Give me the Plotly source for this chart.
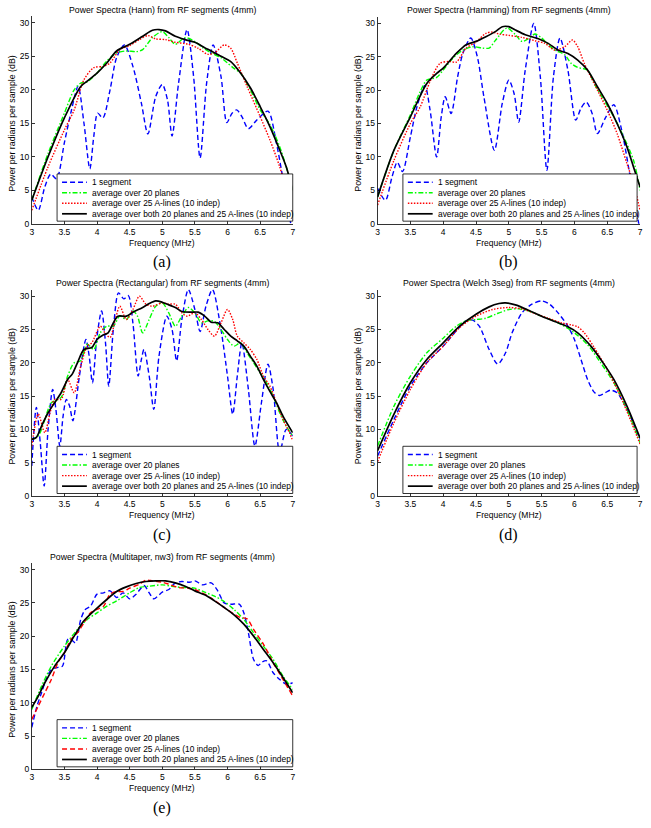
import plotly.graph_objects as go

W, H = 651, 828

# ---------------- data (frequency MHz, power dB) ----------------
titles = [
    "Power Spectra (Hann) from RF segments (4mm)",
    "Power Spectra (Hamming) from RF segments (4mm)",
    "Power Spectra (Rectangular) from RF segments (4mm)",
    "Power Spectra (Welch 3seg) from RF segments (4mm)",
    "Power Spectra (Multitaper, nw3) from RF segments (4mm)",
]
panel_labels = ["(a)", "(b)", "(c)", "(d)", "(e)"]
legend_names = [
    "1 segment",
    "average over 20 planes",
    "average over 25 A-lines (10 indep)",
    "average over both 20 planes and 25 A-lines (10 indep)",
]
x_ticks = [3, 3.5, 4, 4.5, 5, 5.5, 6, 6.5, 7]
y_ticks = [0, 5, 10, 15, 20, 25, 30]

# (a) Hann
hann_blue_x = [3.0, 3.1, 3.2, 3.29, 3.38, 3.5, 3.6, 3.71, 3.8, 3.89, 3.95, 4.01, 4.09, 4.2, 4.3, 4.42, 4.55, 4.68, 4.78, 4.9, 5.0, 5.08, 5.15, 5.25, 5.38, 5.48, 5.58, 5.68, 5.78, 5.9, 5.99, 6.07, 6.14, 6.22, 6.32, 6.45, 6.62, 6.75, 6.88, 6.97, 7.0]
hann_blue_y = [4.0, 2.0, 5.5, 7.4, 6.7, 12.1, 16.6, 20.5, 15.0, 8.2, 13.0, 16.5, 15.8, 20.0, 24.8, 26.7, 23.5, 18.0, 13.4, 19.0, 20.8, 18.5, 13.1, 21.0, 29.0, 22.0, 9.8, 21.0, 26.7, 22.0, 15.1, 16.5, 17.0, 16.0, 14.2, 15.5, 16.8, 12.0, 5.0, 0.0, -1.0]
hann_green_x = [3.0, 3.25, 3.5, 3.65, 3.75, 3.85, 4.0, 4.15, 4.3, 4.45, 4.6, 4.7, 4.85, 5.0, 5.1, 5.2, 5.35, 5.5, 5.62, 5.75, 5.9, 6.0, 6.1, 6.2, 6.35, 6.5, 6.65, 6.8, 6.9, 7.0]
hann_green_y = [3.5, 10.5, 16.5, 20.0, 21.0, 21.2, 22.5, 24.3, 25.5, 25.8, 25.7, 26.0, 27.8, 28.7, 27.8, 26.8, 27.8, 27.2, 26.3, 25.5, 24.8, 24.0, 23.2, 22.5, 20.0, 17.0, 14.8, 11.5, 8.5, 5.0]
hann_red_x = [3.0, 3.25, 3.5, 3.65, 3.8, 3.95, 4.1, 4.2, 4.35, 4.5, 4.65, 4.78, 4.9, 5.05, 5.2, 5.4, 5.55, 5.7, 5.8, 5.95, 6.05, 6.15, 6.3, 6.5, 6.65, 6.8, 6.9, 7.0]
hann_red_y = [2.0, 8.5, 14.0, 17.0, 21.5, 23.3, 23.5, 24.0, 26.0, 26.6, 27.5, 28.1, 27.6, 27.5, 27.1, 26.8, 26.2, 25.3, 25.5, 26.7, 26.2, 24.0, 20.5, 16.0, 12.5, 8.5, 5.0, 1.5]
hann_black_x = [3.0, 3.25, 3.5, 3.75, 3.85, 4.0, 4.15, 4.3, 4.5, 4.7, 4.85, 4.95, 5.05, 5.2, 5.35, 5.5, 5.65, 5.75, 5.9, 6.05, 6.2, 6.35, 6.5, 6.65, 6.8, 6.9, 7.0]
hann_black_y = [3.5, 10.0, 15.8, 20.5, 21.3, 22.5, 24.0, 25.8, 26.8, 28.0, 28.9, 29.0, 28.8, 28.0, 27.5, 27.1, 26.3, 25.8, 25.0, 24.2, 22.5, 20.3, 17.5, 14.5, 11.0, 8.5, 5.0]

# (b) Hamming
hamm_blue_x = [3.0, 3.12, 3.22, 3.3, 3.38, 3.5, 3.6, 3.72, 3.8, 3.9, 3.97, 4.03, 4.12, 4.22, 4.3, 4.42, 4.52, 4.62, 4.78, 4.9, 5.0, 5.08, 5.15, 5.25, 5.38, 5.48, 5.58, 5.68, 5.78, 5.9, 6.02, 6.1, 6.18, 6.27, 6.35, 6.47, 6.6, 6.72, 6.85, 6.98, 7.0]
hamm_blue_y = [5.3, 3.5, 7.0, 9.2, 7.8, 13.0, 17.5, 20.7, 17.0, 10.0, 16.0, 19.0, 16.5, 22.0, 25.5, 27.8, 25.0, 19.0, 11.0, 18.0, 21.5, 19.5, 15.2, 23.0, 30.0, 22.0, 8.0, 22.0, 27.8, 23.0, 15.5, 17.3, 18.2, 16.5, 13.5, 15.8, 17.8, 14.0, 7.0, 0.0, -1.0]
hamm_green_x = [3.0, 3.25, 3.5, 3.65, 3.75, 3.9, 4.0, 4.15, 4.3, 4.45, 4.6, 4.7, 4.8, 4.97, 5.1, 5.2, 5.3, 5.4, 5.5, 5.6, 5.7, 5.85, 5.95, 6.05, 6.2, 6.3, 6.45, 6.6, 6.75, 6.9, 7.0]
hamm_green_y = [4.0, 11.0, 16.3, 19.8, 21.5, 21.9, 23.0, 24.8, 26.0, 26.5, 26.3, 26.3, 27.5, 29.3, 28.3, 27.3, 27.7, 28.4, 27.8, 26.8, 26.0, 25.3, 24.0, 23.4, 23.0, 21.0, 18.5, 16.0, 13.0, 9.5, 5.0]
hamm_red_x = [3.0, 3.25, 3.5, 3.65, 3.8, 3.95, 4.1, 4.2, 4.35, 4.5, 4.65, 4.75, 4.85, 5.0, 5.2, 5.4, 5.55, 5.7, 5.85, 5.97, 6.05, 6.15, 6.3, 6.5, 6.65, 6.8, 6.9, 7.0]
hamm_red_y = [2.8, 9.5, 15.0, 17.5, 21.3, 24.0, 24.3, 24.2, 26.3, 27.2, 28.5, 28.7, 28.4, 28.2, 27.9, 27.4, 27.0, 26.0, 26.5, 27.5, 26.5, 24.0, 21.0, 17.0, 13.5, 9.0, 6.0, 2.0]
hamm_black_x = [3.0, 3.25, 3.5, 3.75, 3.9, 4.0, 4.2, 4.35, 4.5, 4.65, 4.8, 4.9, 5.0, 5.1, 5.25, 5.45, 5.6, 5.75, 5.9, 6.05, 6.2, 6.35, 6.5, 6.65, 6.8, 6.9, 7.0]
hamm_black_y = [4.0, 11.0, 16.0, 21.0, 22.5, 23.3, 25.5, 26.8, 27.3, 28.0, 28.8, 29.5, 29.5, 29.0, 28.3, 27.7, 27.0, 26.0, 25.5, 24.5, 23.0, 20.5, 18.0, 15.0, 11.5, 8.5, 5.5]

# (c) Rectangular
rect_blue_x = [3.0, 3.07, 3.13, 3.19, 3.25, 3.32, 3.37, 3.43, 3.48, 3.53, 3.58, 3.63, 3.73, 3.83, 3.88, 3.93, 4.0, 4.07, 4.13, 4.18, 4.25, 4.33, 4.41, 4.48, 4.55, 4.63, 4.68, 4.72, 4.8, 4.87, 4.95, 5.07, 5.15, 5.22, 5.3, 5.4, 5.5, 5.58, 5.67, 5.77, 5.9, 6.0, 6.08, 6.15, 6.22, 6.32, 6.42, 6.52, 6.62, 6.7, 6.8, 6.9, 7.0]
rect_blue_y = [4.5, 13.3, 8.0, 1.5, 10.0, 16.0, 13.0, 7.5, 12.0, 14.5, 13.5, 11.3, 18.0, 23.5, 21.0, 17.0, 24.0, 27.8, 23.0, 16.5, 25.0, 30.5, 29.6, 30.1, 26.0, 18.0, 20.5, 22.0, 18.0, 13.0, 21.0, 27.0, 25.0, 20.3, 26.5, 31.0, 28.0, 24.7, 28.5, 31.0, 25.0, 18.0, 12.3, 18.0, 23.0, 16.0, 7.5, 14.0, 19.8, 16.0, 6.5, 10.0, 9.0]
rect_green_x = [3.0, 3.1, 3.2, 3.3, 3.45, 3.55, 3.65, 3.75, 3.85, 3.95, 4.05, 4.15, 4.25, 4.35, 4.45, 4.55, 4.62, 4.7, 4.8, 4.9, 5.0, 5.1, 5.2, 5.3, 5.4, 5.5, 5.6, 5.7, 5.8, 5.9, 6.0, 6.1, 6.2, 6.3, 6.4, 6.5, 6.6, 6.7, 6.8, 6.9, 7.0]
rect_green_y = [8.5, 9.0, 11.5, 14.0, 14.8, 18.0, 20.0, 20.3, 22.8, 22.0, 24.5, 25.5, 25.5, 27.0, 26.5, 27.8, 27.0, 24.5, 26.5, 28.5, 29.0, 27.5, 25.5, 27.0, 28.3, 27.5, 26.0, 26.3, 26.2, 25.0, 23.5, 22.5, 23.0, 21.5, 20.0, 18.5, 17.0, 15.0, 12.5, 10.5, 9.0]
rect_red_x = [3.0, 3.1, 3.2, 3.28, 3.35, 3.45, 3.55, 3.65, 3.75, 3.85, 3.92, 4.05, 4.12, 4.2, 4.28, 4.35, 4.45, 4.55, 4.65, 4.75, 4.85, 5.0, 5.1, 5.2, 5.3, 5.38, 5.5, 5.6, 5.7, 5.8, 5.9, 6.0, 6.08, 6.15, 6.25, 6.35, 6.45, 6.55, 6.65, 6.75, 6.85, 6.95, 7.0]
rect_red_y = [7.5, 12.3, 9.5, 12.5, 14.5, 14.5, 17.5, 15.5, 19.5, 22.5, 23.0, 25.5, 24.5, 23.8, 26.5, 28.5, 26.5, 28.0, 30.0, 28.8, 28.5, 29.0, 28.8, 28.8, 27.5, 27.0, 27.5, 26.5, 25.0, 24.0, 26.0, 28.0, 26.5, 24.0, 23.0, 22.0, 20.5, 18.0, 16.5, 14.0, 11.5, 9.5, 8.3]
rect_black_x = [3.0, 3.07, 3.15, 3.25, 3.35, 3.45, 3.55, 3.62, 3.7, 3.8, 3.92, 4.0, 4.1, 4.17, 4.25, 4.32, 4.45, 4.55, 4.7, 4.8, 4.9, 5.0, 5.1, 5.2, 5.3, 5.45, 5.55, 5.65, 5.75, 5.85, 5.95, 6.05, 6.15, 6.25, 6.35, 6.45, 6.55, 6.65, 6.75, 6.85, 6.95, 7.0]
rect_black_y = [8.5, 8.8, 10.5, 12.5, 14.0, 15.5, 17.5, 18.3, 20.0, 22.0, 22.3, 23.5, 24.2, 24.5, 26.0, 27.0, 27.0, 27.6, 28.3, 28.9, 29.3, 29.1, 28.7, 28.3, 27.7, 27.6, 27.6, 27.0, 26.1, 26.0, 25.0, 24.0, 23.3, 22.5, 21.0, 19.5, 17.5, 15.7, 14.0, 12.0, 10.3, 9.5]

# (d) Welch 3seg
welch_blue_x = [3.0, 3.25, 3.5, 3.75, 4.0, 4.2, 4.35, 4.45, 4.55, 4.7, 4.83, 4.95, 5.05, 5.2, 5.35, 5.5, 5.62, 5.75, 5.9, 6.0, 6.1, 6.2, 6.3, 6.38, 6.47, 6.55, 6.65, 6.75, 6.85, 7.0]
welch_blue_y = [6.0, 11.5, 16.5, 20.0, 22.5, 24.8, 26.3, 26.4, 25.5, 22.0, 19.8, 21.5, 24.5, 27.5, 28.8, 29.3, 28.8, 27.5, 25.5, 23.5, 20.5, 17.5, 15.6, 15.1, 15.5, 15.9, 15.5, 14.0, 12.0, 8.5]
welch_green_x = [3.0, 3.25, 3.5, 3.75, 4.0, 4.2, 4.35, 4.5, 4.65, 4.8, 5.0, 5.15, 5.3, 5.5, 5.75, 6.0, 6.2, 6.4, 6.6, 6.8, 7.0]
welch_green_y = [7.5, 13.5, 18.0, 21.5, 23.7, 25.5, 26.3, 26.5, 26.7, 27.3, 28.0, 28.1, 27.8, 27.0, 26.0, 24.5, 22.7, 20.0, 17.0, 13.0, 8.0]
welch_red_x = [3.0, 3.25, 3.5, 3.75, 4.0, 4.25, 4.5, 4.75, 5.0, 5.2, 5.4, 5.6, 5.8, 5.95, 6.05, 6.15, 6.3, 6.5, 6.7, 6.85, 7.0]
welch_red_y = [5.2, 11.0, 16.0, 20.0, 22.5, 25.3, 27.0, 28.0, 28.3, 28.1, 27.4, 26.7, 26.0, 25.7, 25.4, 24.5, 22.3, 19.0, 15.0, 11.5, 7.8]
welch_black_x = [3.0, 3.25, 3.5, 3.75, 4.0, 4.25, 4.5, 4.7, 4.85, 4.95, 5.1, 5.3, 5.5, 5.7, 5.9, 6.05, 6.25, 6.45, 6.6, 6.8, 7.0]
welch_black_y = [6.8, 12.3, 17.0, 20.5, 23.0, 25.5, 27.3, 28.4, 28.9, 29.0, 28.7, 27.9, 27.0, 26.2, 25.4, 24.5, 22.5, 19.8, 17.5, 13.5, 8.7]

# (e) Multitaper nw3
mt_blue_x = [3.0, 3.08, 3.15, 3.22, 3.3, 3.4, 3.47, 3.55, 3.6, 3.67, 3.75, 3.82, 3.9, 4.0, 4.1, 4.2, 4.3, 4.4, 4.5, 4.6, 4.72, 4.8, 4.87, 5.0, 5.1, 5.2, 5.3, 5.42, 5.5, 5.62, 5.75, 5.85, 5.95, 6.05, 6.18, 6.25, 6.32, 6.4, 6.47, 6.53, 6.6, 6.7, 6.8, 6.9, 7.0]
mt_blue_y = [6.3, 9.5, 11.5, 13.5, 15.0, 15.3, 15.5, 19.5, 19.5, 19.0, 22.5, 24.0, 24.5, 26.3, 26.5, 26.8, 25.8, 26.5, 25.6, 26.3, 27.6, 26.5, 25.6, 26.6, 27.0, 28.0, 28.2, 28.1, 28.3, 27.7, 28.0, 26.8, 25.0, 24.8, 24.8, 23.5, 20.5, 16.5, 15.6, 16.1, 16.3, 14.5, 13.5, 12.8, 13.0]
mt_green_x = [3.0, 3.15, 3.3, 3.5, 3.7, 3.85, 4.0, 4.15, 4.3, 4.5, 4.65, 4.8, 5.0, 5.15, 5.3, 5.5, 5.65, 5.8, 5.95, 6.1, 6.25, 6.4, 6.55, 6.7, 6.85, 7.0]
mt_green_y = [9.0, 12.5, 15.5, 18.5, 21.0, 22.5, 23.5, 24.5, 25.3, 26.5, 27.3, 27.5, 27.7, 27.5, 27.3, 27.2, 26.6, 26.0, 25.2, 24.0, 22.5, 20.5, 18.5, 16.5, 14.0, 12.0]
mt_red_x = [3.0, 3.1, 3.2, 3.3, 3.4, 3.5, 3.6, 3.7, 3.8, 3.9, 4.0, 4.1, 4.2, 4.3, 4.4, 4.5, 4.65, 4.75, 4.85, 5.0, 5.1, 5.25, 5.4, 5.55, 5.75, 5.95, 6.1, 6.2, 6.3, 6.4, 6.55, 6.7, 6.85, 7.0]
mt_red_y = [7.5, 9.5, 11.5, 13.5, 16.0, 17.5, 19.5, 20.5, 22.0, 23.5, 24.0, 24.5, 26.3, 26.7, 26.7, 27.2, 27.8, 28.4, 28.3, 28.1, 27.8, 27.3, 27.2, 26.8, 25.7, 24.3, 23.3, 22.8, 22.6, 21.0, 18.8, 16.0, 13.5, 11.0]
mt_black_x = [3.0, 3.1, 3.2, 3.35, 3.5, 3.65, 3.8, 4.0, 4.15, 4.3, 4.45, 4.6, 4.75, 4.9, 5.05, 5.2, 5.35, 5.5, 5.65, 5.8, 5.95, 6.1, 6.25, 6.4, 6.55, 6.7, 6.85, 7.0]
mt_black_y = [9.3, 11.0, 13.0, 15.5, 17.5, 20.0, 22.3, 24.2, 25.5, 26.7, 27.4, 27.9, 28.2, 28.3, 28.3, 28.0, 27.5, 26.8, 26.2, 25.3, 24.3, 23.2, 21.8, 20.0, 18.0, 16.0, 13.8, 11.5]

# ---------------- layout geometry (page pixels) ----------------
# axes boxes: left, right, y-pixel of value 0, y-pixel of value 30
axes_px = [
    (30, 293, 225, 23),
    (378.5, 643, 225, 23.5),
    (30, 293, 499, 298),
    (378.5, 643, 499, 298),
    (30, 293, 774, 573),
]
Y_TOP = 31.0

def px(x):
    return x / W

def py(y):
    return 1 - y / H

BLUE = "rgb(0,0,255)"
GREEN = "rgb(0,255,0)"
RED = "rgb(255,0,0)"
BLACK = "rgb(0,0,0)"
DASH_BLUE = "5px,3px"
DASH_GREEN = "5px,2px,1.5px,2px"
DASH_RED_DOT = "1.5px,1.5px"
FONT = "Liberation Sans, Arial, sans-serif"
SERIF = "Liberation Serif, Times New Roman, serif"

panels = [
    (hann_blue_x, hann_blue_y, hann_green_x, hann_green_y, hann_red_x, hann_red_y, hann_black_x, hann_black_y),
    (hamm_blue_x, hamm_blue_y, hamm_green_x, hamm_green_y, hamm_red_x, hamm_red_y, hamm_black_x, hamm_black_y),
    (rect_blue_x, rect_blue_y, rect_green_x, rect_green_y, rect_red_x, rect_red_y, rect_black_x, rect_black_y),
    (welch_blue_x, welch_blue_y, welch_green_x, welch_green_y, welch_red_x, welch_red_y, welch_black_x, welch_black_y),
    (mt_blue_x, mt_blue_y, mt_green_x, mt_green_y, mt_red_x, mt_red_y, mt_black_x, mt_black_y),
]
red_dashes = [DASH_RED_DOT] * 4 + [DASH_BLUE]

fig = go.Figure()
layout = dict(
    width=W, height=H, margin=dict(l=0, r=0, t=0, b=0),
    paper_bgcolor="white", plot_bgcolor="white", showlegend=False,
    font=dict(family=FONT, size=8.5, color="black"),
    hovermode=False,
)
shapes = []
annotations = []

for i, (bx, by, gx, gy, rx, ry, kx, ky) in enumerate(panels):
    n = "" if i == 0 else str(i + 1)
    xa, ya = "x" + n, "y" + n
    left, right, y0px, y30px = axes_px[i]
    ppu = (y0px - y30px) / 30.0
    top_px = y0px - Y_TOP * ppu
    series = [
        (bx, by, BLUE, DASH_BLUE, 1.4),
        (gx, gy, GREEN, DASH_GREEN, 1.4),
        (rx, ry, RED, red_dashes[i], 1.4),
        (kx, ky, BLACK, "solid", 1.7),
    ]
    for j, (sx, sy, col, dash, lw) in enumerate(series):
        fig.add_trace(go.Scatter(
            x=sx, y=sy, mode="lines", name=legend_names[j],
            line=dict(color=col, dash=dash, width=lw, shape="spline", smoothing=0.8),
            xaxis=xa, yaxis=ya, showlegend=False, hoverinfo="skip",
        ))
    layout["xaxis" + n] = dict(
        domain=[px(left), px(right)], anchor=ya, range=[3, 7],
        tickvals=x_ticks, ticktext=[f"{t:g}" for t in x_ticks],
        ticks="inside", ticklen=3, tickwidth=0.8, tickcolor="black",
        showline=True, linecolor="black", linewidth=0.8, mirror=False,
        showgrid=False, zeroline=False, tickfont=dict(size=8.5),
        ticklabeloverflow="allow",
    )
    layout["yaxis" + n] = dict(
        domain=[py(y0px), py(top_px)], anchor=xa, range=[0, Y_TOP],
        tickvals=y_ticks,
        ticks="inside", ticklen=3, tickwidth=0.8, tickcolor="black",
        showline=True, linecolor="black", linewidth=0.8, mirror=False,
        showgrid=False, zeroline=False, tickfont=dict(size=8.5),
        ticklabeloverflow="allow",
    )
    cx = (left + right) / 2
    # title
    annotations.append(dict(text=titles[i], x=px(cx), y=py(y30px - 13), xref="paper", yref="paper",
                            xanchor="center", yanchor="middle", showarrow=False, font=dict(size=8.7)))
    # x label
    annotations.append(dict(text="Frequency (MHz)", x=px(cx), y=py(y0px + 19), xref="paper", yref="paper",
                            xanchor="center", yanchor="middle", showarrow=False, font=dict(size=8.5)))
    # y label
    annotations.append(dict(text="Power per radians per sample (dB)", x=px(left - 19.5), y=py((y0px + y30px) / 2),
                            xref="paper", yref="paper", xanchor="center", yanchor="middle",
                            textangle=-90, showarrow=False, font=dict(size=8.8)))
    # panel label
    annotations.append(dict(text=panel_labels[i], x=px(cx), y=py(y0px + 39), xref="paper", yref="paper",
                            xanchor="center", yanchor="middle", showarrow=False,
                            font=dict(family=SERIF, size=16)))
    # legend box
    lg_l = left + 25.5
    lg_r = right - (0 if i in (0, 2, 4) else 3)
    lg_b = y0px - 2.5
    lg_t = y0px - 50
    shapes.append(dict(type="rect", xref="paper", yref="paper", x0=px(lg_l), x1=px(lg_r),
                       y0=py(lg_b), y1=py(lg_t), fillcolor="white",
                       line=dict(color="black", width=0.8), layer="above"))
    for j, (sx, sy, col, dash, lw) in enumerate(series):
        yy = lg_t + 8.3 + j * 10.6
        shapes.append(dict(type="line", xref="paper", yref="paper", x0=px(lg_l + 5), x1=px(lg_l + 30),
                           y0=py(yy), y1=py(yy), line=dict(color=col, dash=dash, width=lw), layer="above"))
        annotations.append(dict(text=legend_names[j], x=px(lg_l + 33.5), y=py(yy), xref="paper", yref="paper",
                                xanchor="left", yanchor="middle", showarrow=False, font=dict(size=8.4)))

layout["shapes"] = shapes
layout["annotations"] = annotations
fig.update_layout(**layout)
fig.write_html(
    "out.html",
    config={"displayModeBar": False, "staticPlot": True},
    post_script="document.documentElement.style.margin='0';document.body.style.margin='0';"
                "document.body.style.padding='0';document.body.style.overflow='hidden';",
)
